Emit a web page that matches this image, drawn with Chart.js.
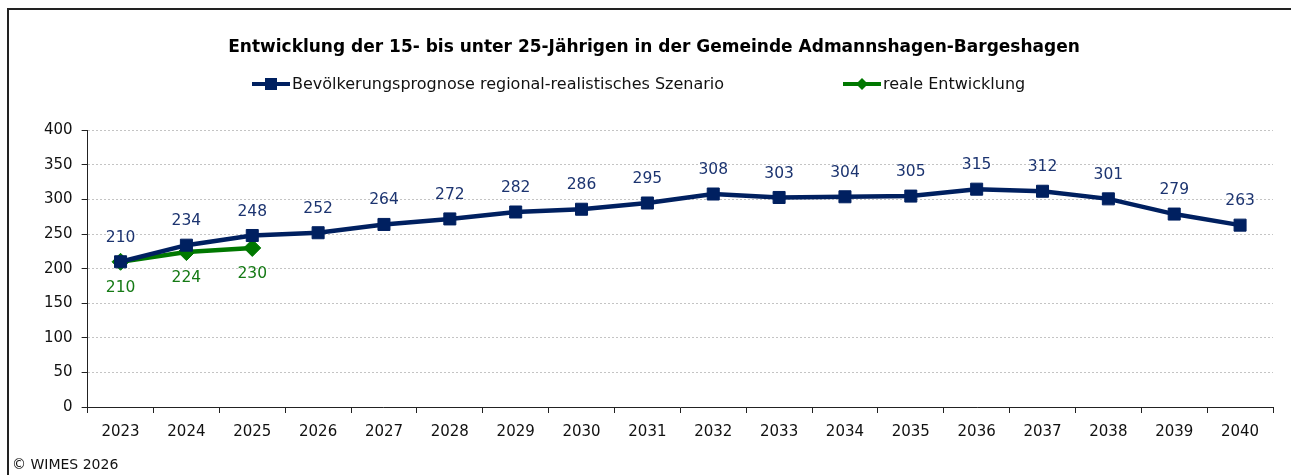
<!DOCTYPE html>
<html lang="de">
<head>
<meta charset="utf-8">
<title>Entwicklung der 15- bis unter 25-Jährigen</title>
<script src="https://cdn.jsdelivr.net/npm/chart.js@4/dist/chart.umd.min.js"></script>
<style>
    html, body { margin: 0; padding: 0; background: #fff; }
    #wrap { position: relative; width: 1291px; height: 475px; overflow: hidden; }
    #frame {
        position: absolute; left: 7px; top: 8px; width: 1400px; height: 600px;
        border-left: 2px solid #222; border-top: 2px solid #222; box-sizing: border-box;
    }
    #copy {
        position: absolute; left: 12px; top: 456px;
        font: 14px "DejaVu Sans", Verdana, sans-serif; color: #111;
    }
    canvas { position: absolute; left: 0; top: 0; }
</style>
</head>
<body>
<div id="wrap">
    <div id="frame"></div>
    <canvas id="chart" width="1291" height="475"></canvas>
    <div id="copy">© WIMES 2026</div>
</div>
<script>
// Daten
const years = ['2023', '2024', '2025', '2026', '2027', '2028', '2029', '2030', '2031',
    '2032', '2033', '2034', '2035', '2036', '2037', '2038', '2039', '2040'];
const prognose = [210, 234, 248, 252, 264, 272, 282, 286, 295, 308, 303, 304, 305, 315, 312, 301, 279, 263];
const real = [210, 224, 230];
const yTicks = [0, 50, 100, 150, 200, 250, 300, 350, 400];
const legendLabels = ['Bevölkerungsprognose regional-realistisches Szenario', 'reale Entwicklung'];

const BLUE = '#002060';
const GREEN = '#007800';
const FONT = '"DejaVu Sans", Verdana, sans-serif';

// Legende: Linie mit Marker in der Mitte, Positionen wie im Original
const customLegend = {
    id: 'customLegend',
    afterDraw(chart) {
        const ctx = chart.ctx;
        const items = [
            { x: 252, color: BLUE, shape: 'rect', text: legendLabels[0] },
            { x: 843, color: GREEN, shape: 'diamond', text: legendLabels[1] }
        ];
        const y = 84;
        ctx.save();
        ctx.font = '16px ' + FONT;
        ctx.textBaseline = 'middle';
        ctx.textAlign = 'left';
        items.forEach(it => {
            ctx.strokeStyle = it.color;
            ctx.fillStyle = it.color;
            ctx.lineWidth = 4;
            ctx.beginPath(); ctx.moveTo(it.x, y); ctx.lineTo(it.x + 38, y); ctx.stroke();
            if (it.shape === 'rect') {
                ctx.fillRect(it.x + 13, y - 6, 12, 12);
            } else {
                ctx.beginPath();
                ctx.moveTo(it.x + 19, y - 6); ctx.lineTo(it.x + 25, y);
                ctx.lineTo(it.x + 19, y + 6); ctx.lineTo(it.x + 13, y);
                ctx.closePath(); ctx.fill();
            }
            ctx.fillStyle = '#111';
            ctx.fillText(it.text, it.x + 40, y + 1);
        });
        ctx.restore();
    }
};

// Datenbeschriftungen
const valueLabels = {
    id: 'valueLabels',
    afterDatasetsDraw(chart) {
        const ctx = chart.ctx;
        ctx.save();
        ctx.font = '15.5px ' + FONT;
        ctx.textAlign = 'center';
        ctx.textBaseline = 'middle';
        chart.data.datasets.forEach((ds, i) => {
            const meta = chart.getDatasetMeta(i);
            meta.data.forEach((pt, j) => {
                ctx.fillStyle = i === 0 ? '#1c3470' : '#157a15';
                const dy = i === 0 ? -24 : 26;
                ctx.fillText(ds.data[j], pt.x, pt.y + dy);
            });
        });
        ctx.restore();
    }
};

new Chart(document.getElementById('chart'), {
    type: 'line',
    data: {
        labels: years,
        datasets: [{
            label: legendLabels[0],
            data: prognose,
            borderColor: BLUE,
            backgroundColor: BLUE,
            borderWidth: 4.5,
            pointStyle: 'rect',
            pointRadius: 8.5,
            pointHoverRadius: 8.5,
            pointBorderWidth: 1,
            tension: 0
        }, {
            label: legendLabels[1],
            data: real,
            borderColor: GREEN,
            backgroundColor: GREEN,
            borderWidth: 4.5,
            pointStyle: 'rectRot',
            pointRadius: 8.5,
            pointHoverRadius: 8.5,
            pointBorderWidth: 1,
            tension: 0
        }]
    },
    options: {
        responsive: false,
        animation: false,
        layout: { padding: { left: 35, right: 18, top: 26, bottom: 24 } },
        plugins: {
            title: {
                display: true,
                text: 'Entwicklung der 15- bis unter 25-Jährigen in der Gemeinde Admannshagen-Bargeshagen',
                color: '#000',
                font: { family: FONT, size: 17, weight: 'bold' },
                padding: { top: 11, bottom: 73 }
            },
            legend: { display: false },
            tooltip: { enabled: false }
        },
        scales: {
            x: {
                offset: true,
                grid: {
                    display: true,
                    offset: true,
                    drawOnChartArea: false,
                    tickColor: '#222',
                    tickLength: 6
                },
                border: { color: '#222', width: 1 },
                ticks: { color: '#111', font: { family: FONT, size: 15 }, padding: 10 }
            },
            y: {
                min: 0,
                max: 400,
                afterBuildTicks(axis) { axis.ticks = yTicks.map(v => ({ value: v })); },
                grid: {
                    color: '#c4c4c4',
                    tickColor: '#222',
                    tickLength: 6,
                    lineWidth: 1
                },
                border: { color: '#222', width: 1, dash: [2, 2] },
                ticks: { color: '#111', font: { family: FONT, size: 15 }, padding: 9 }
            }
        }
    },
    plugins: [valueLabels, customLegend]
});
</script>
</body>
</html>
